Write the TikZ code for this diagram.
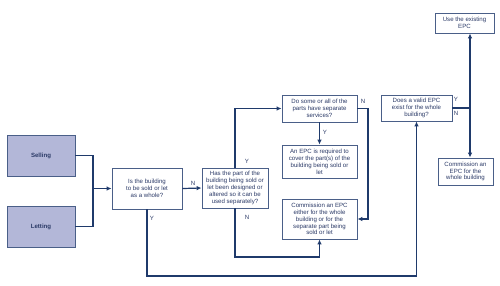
\documentclass[tikz,border=0pt]{standalone}
\usepackage{fontspec}
\setmainfont{Liberation Sans}
\usetikzlibrary{arrows.meta}
\definecolor{navy}{HTML}{1F3A6B}
\definecolor{boxline}{HTML}{4A5F88}
\definecolor{lav}{HTML}{B3B7D8}
\definecolor{txt}{HTML}{2B3A67}
\begin{document}
\begin{tikzpicture}[x=1pt,y=-1pt,
  box/.style={draw=boxline,line width=0.8pt,fill=white,rectangle,inner sep=0pt,
    align=center,text=txt,font=\fontsize{6.1}{6.9}\selectfont},
  srcbox/.style={box,fill=lav,font=\fontsize{6.1}{6.9}\selectfont\bfseries},
  conn/.style={draw=navy,line width=1.2pt},
  arr/.style={conn,-{Latex[length=5pt,width=4.5pt]}},
  lbl/.style={text=txt,font=\fontsize{6.1}{6.9}\selectfont,inner sep=0pt}]
\useasboundingbox (0,0) rectangle (500,285);
% boxes
\node[srcbox,minimum width=68pt,minimum height=41pt] (sell) at (41,155.5) {Selling};
\node[srcbox,minimum width=68pt,minimum height=41pt] (let) at (41,226.5) {Letting};
\node[box,minimum width=70pt,minimum height=41pt] (whole) at (147,188.5) {Is the building\\to be sold or let\\as a whole?};
\node[box,minimum width=66pt,minimum height=40pt] (sep) at (235,188) {Has the part of the\\building being sold or\\let been designed or\\altered so it can be\\used separately?};
\node[box,minimum width=75pt,minimum height=27pt] (serv) at (319.5,108.5) {Do some or all of the\\parts have separate\\services?};
\node[box,minimum width=75pt,minimum height=33pt] (req) at (319.5,161.5) {An EPC is required to\\cover the part(s) of the\\building being sold or\\let};
\node[box,minimum width=75pt,minimum height=40pt] (comm) at (319.5,219) {Commission an EPC\\either for the whole\\building or for the\\separate part being\\sold or let};
\node[box,minimum width=71pt,minimum height=26pt] (valid) at (416.5,108) {Does a valid EPC\\exist for the whole\\building?};
\node[box,minimum width=59pt,minimum height=20pt] (use) at (464.5,23) {Use the existing\\EPC};
\node[box,minimum width=55pt,minimum height=27pt] (comm2) at (465.5,171.5) {Commission an\\EPC for the\\whole building};
% connectors
\coordinate (j) at (93,188.5);
\draw[conn] (sell.east) -| (j) |- (let.east);
\draw[arr] (j) -- (whole.west);
\draw[arr] (whole.east) -- (sep.west);
\coordinate (b1) at (147,276);
\coordinate (b2) at (416.5,276);
\draw[arr] (whole.south) -- (b1) -- (b2) -- (valid.south);
\draw[arr] (sep.north) |- (serv.west);
\draw[arr] (serv.south) -- (req.north);
\coordinate (nr) at (368,108.5);
\draw[arr] (serv.east) -- (nr) |- (comm.east);
\coordinate (c1) at (319.5,257);
\draw[arr] (sep.south) |- (c1) -- (comm.south);
\coordinate (v) at (470,108);
\draw[conn] (valid.east) -- (v);
\draw[arr] (v) -- (v |- use.south);
\draw[arr] (v) -- (v |- comm2.north);
% labels
\node[lbl] (l1) at (193,183) {N};
\node[lbl] (l2) at (152,218) {Y};
\node[lbl] (l3) at (247,161) {Y};
\node[lbl] (l4) at (247,217) {N};
\node[lbl] (l5) at (325,132) {Y};
\node[lbl] (l6) at (363,101) {N};
\node[lbl] (l7) at (456,99) {Y};
\node[lbl] (l8) at (456,113) {N};
\end{tikzpicture}
\end{document}
